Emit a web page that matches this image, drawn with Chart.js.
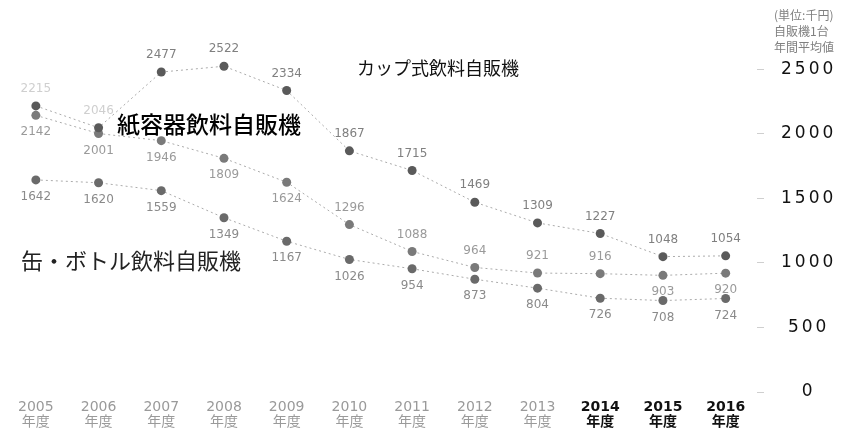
<!DOCTYPE html>
<html lang="ja">
<head>
<meta charset="utf-8">
<title>自販機1台当たり年間平均</title>
<script src="https://cdn.jsdelivr.net/npm/chart.js@4.4.1/dist/chart.umd.min.js"></script>
<style>
  html, body { margin: 0; padding: 0; background: #fff; }
  #wrap { width: 862px; height: 429px; position: relative; }
</style>
</head>
<body>
<div id="wrap"><canvas id="chart" width="862" height="429"></canvas></div>
<script>
// fiscal years on the x axis
const years = ['2005', '2006', '2007', '2008', '2009', '2010', '2011', '2012', '2013', '2014', '2015', '2016'];

// average per machine, one array per machine type
const cupValues = [2215, 2046, 2477, 2522, 2334, 1867, 1715, 1469, 1309, 1227, 1048, 1054];
const paperValues = [2142, 2001, 1946, 1809, 1624, 1296, 1088, 964, 921, 916, 903, 920];
const bottleValues = [1642, 1620, 1559, 1349, 1167, 1026, 954, 873, 804, 726, 708, 724];

const yTicks = [0, 500, 1000, 1500, 2000, 2500];

const seriesNames = ['カップ式飲料自販機', '紙容器飲料自販機', '缶・ボトル飲料自販機'];
const unitLines = ['(単位:千円)', '自販機1台', '年間平均値'];

const CJK = "'Noto Sans CJK JP', 'Noto Sans', sans-serif";
const NUM = "'DejaVu Sans', 'Noto Sans CJK JP', sans-serif";

// where each value label sits relative to its point (-1 above, 1 below)
const labelSide = [
    cupValues.map(() => -1),
    ['b', 'b', 'b', 'b', 'b', 'a', 'a', 'a', 'a', 'a', 'b', 'b'].map(s => s === 'a' ? -1 : 1),
    bottleValues.map(() => 1)
];
const labelColor = [
    i => (i < 2 ? '#cfcfcf' : '#808080'),
    i => '#9a9a9a',
    i => '#8a8a8a'
];

const valueLabels = {
    id: 'valueLabels',
    afterDatasetsDraw(chart) {
        const ctx = chart.ctx;
        ctx.save();
        ctx.font = "12px " + NUM;
        ctx.textAlign = 'center';
        ctx.textBaseline = 'middle';
        chart.data.datasets.forEach((ds, di) => {
            const meta = chart.getDatasetMeta(di);
            meta.data.forEach((pt, i) => {
                ctx.fillStyle = labelColor[di](i);
                ctx.fillText(String(ds.data[i]), pt.x, pt.y + labelSide[di][i] * 17);
            });
        });
        ctx.restore();
    }
};

// wide-set numbers on the value axis
const spacedYLabels = {
    id: 'spacedYLabels',
    beforeDraw(chart) {
        const s = chart.scales.y;
        if (s._spaced) return;
        const orig = s.drawLabels;
        s.drawLabels = function (area) {
            const c = this.ctx;
            c.save();
            c.letterSpacing = '3px';
            orig.call(this, area);
            c.restore();
        };
        s._spaced = true;
    }
};

// machine-type names and the unit note
const captions = {
    id: 'captions',
    afterDraw(chart) {
        const ctx = chart.ctx;
        ctx.save();
        ctx.textBaseline = 'middle';
        ctx.textAlign = 'left';

        ctx.fillStyle = '#111';
        ctx.font = "18px " + CJK;
        ctx.fillText(seriesNames[0], 357, 68);

        ctx.fillStyle = '#000';
        ctx.font = "500 23px " + CJK;
        ctx.fillText(seriesNames[1], 117, 124);

        ctx.fillStyle = '#222';
        ctx.font = "22px " + CJK;
        ctx.fillText(seriesNames[2], 21, 261);

        ctx.fillStyle = '#808080';
        ctx.font = "12px " + CJK;
        unitLines.forEach((t, i) => ctx.fillText(t, 774, 15 + i * 16));
        ctx.restore();
    }
};

function lineSet(values, pointColor) {
    return {
        data: values,
        borderColor: '#ababab',
        borderWidth: 1,
        borderDash: [2, 3],
        pointStyle: 'circle',
        pointRadius: 4.5,
        pointBackgroundColor: pointColor,
        pointBorderWidth: 0,
        tension: 0
    };
}

new Chart(document.getElementById('chart'), {
    type: 'line',
    data: {
        labels: years,
        datasets: [
            lineSet(cupValues, '#5a5a5a'),
            lineSet(paperValues, '#7a7a7a'),
            lineSet(bottleValues, '#6a6a6a')
        ]
    },
    options: {
        responsive: false,
        animation: false,
        devicePixelRatio: 1,
        layout: { padding: { top: 2, left: 1, right: 0, bottom: 0 } },
        plugins: {
            legend: { display: false },
            tooltip: { enabled: false }
        },
        scales: {
            x: {
                offset: true,
                grid: { display: false, drawTicks: false },
                border: { display: false },
                afterFit: scale => { scale.height = 37; },
                ticks: {
                    padding: 8,
                    maxRotation: 0,
                    autoSkip: false,
                    callback: (v, i) => [years[i], '年度'],
                    color: c => (c.index >= 9 ? '#111' : '#9a9a9a'),
                    font: c => ({
                        family: NUM,
                        size: 14,
                        weight: c.index >= 9 ? 'bold' : 'normal',
                        lineHeight: '15px'
                    })
                }
            },
            y: {
                position: 'right',
                min: 0,
                max: 3000,
                afterBuildTicks: scale => { scale.ticks = yTicks.map(v => ({ value: v })); },
                afterFit: scale => {
                    scale.width = 105;
                    // label padding should not push the plot area down
                    scale.paddingTop = 0;
                    scale.paddingBottom = 0;
                },
                grid: { drawOnChartArea: false, drawTicks: true, tickLength: 7, color: '#cfcfcf' },
                border: { display: false },
                ticks: {
                    padding: 23,
                    crossAlign: 'center',
                    color: '#111',
                    font: { family: NUM, size: 17 },
                    callback: v => String(v)
                }
            }
        }
    },
    plugins: [valueLabels, spacedYLabels, captions]
});
</script>
</body>
</html>
